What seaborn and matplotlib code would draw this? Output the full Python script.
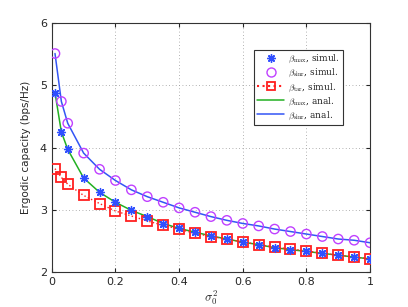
import numpy as np
import pandas as pd
import matplotlib
matplotlib.use("Agg")
import matplotlib.pyplot as plt
import seaborn as sns
from matplotlib.lines import Line2D

# ---- data ----
sigma2 = [0.01, 0.03, 0.05, 0.1, 0.15, 0.2, 0.25, 0.3, 0.35, 0.4, 0.45, 0.5,
          0.55, 0.6, 0.65, 0.7, 0.75, 0.8, 0.85, 0.9, 0.95, 1.0]
max_simul = [4.88, 4.25, 3.97, 3.51, 3.28, 3.12, 2.99, 2.89, 2.77, 2.70, 2.64, 2.58,
             2.53, 2.48, 2.44, 2.39, 2.36, 2.34, 2.30, 2.27, 2.24, 2.21]
sinr_simul = [5.51, 4.74, 4.39, 3.91, 3.65, 3.47, 3.32, 3.21, 3.12, 3.03, 2.96, 2.89,
              2.83, 2.78, 2.74, 2.69, 2.65, 2.61, 2.57, 2.53, 2.51, 2.47]
tar_simul = [3.66, 3.52, 3.41, 3.23, 3.10, 2.98, 2.90, 2.82, 2.75, 2.69, 2.62, 2.57,
             2.53, 2.48, 2.44, 2.40, 2.37, 2.34, 2.30, 2.27, 2.24, 2.21]
max_anal = [4.88, 4.25, 3.97, 3.51, 3.28, 3.12, 2.99, 2.89, 2.78, 2.70, 2.64, 2.58,
            2.53, 2.48, 2.44, 2.39, 2.36, 2.33, 2.30, 2.27, 2.24, 2.21]
sinr_anal = [5.51, 4.74, 4.39, 3.91, 3.65, 3.47, 3.32, 3.21, 3.12, 3.03, 2.96, 2.89,
             2.83, 2.78, 2.74, 2.69, 2.65, 2.61, 2.57, 2.53, 2.51, 2.47]
xticks = [0, 0.2, 0.4, 0.6, 0.8, 1]
yticks = [2, 3, 4, 5, 6]
labels = [r"$\beta_{\rm max}$, simul.", r"$\beta_{\rm sinr}$, simul.", r"$\beta_{\rm tar}$, simul.",
          r"$\beta_{\rm max}$, anal.", r"$\beta_{\rm sinr}$, anal."]

sns.set_style("ticks")
plt.rcParams["font.family"] = ["DejaVu Sans"]
plt.rcParams["mathtext.fontset"] = "cm"

c_star = "#2f4fff"
c_circ = "#c040ff"
c_sq = "#ff2020"
c_green = "#22b022"
c_blue = "#3355f5"

fig = plt.figure(figsize=(4.08, 3.07), dpi=100)
ax = fig.add_axes([0.127, 0.114, 0.78, 0.811])

anal = pd.DataFrame({
    "x": sigma2 + sigma2,
    "y": max_anal + sinr_anal,
    "series": ["max"] * len(sigma2) + ["sinr"] * len(sigma2),
})
sns.lineplot(data=anal, x="x", y="y", hue="series", palette=[c_green, c_blue],
             ax=ax, lw=1.1, legend=False, estimator=None, sort=False, zorder=3)

simul = pd.DataFrame({"x": sigma2, "max_s": max_simul, "sinr_s": sinr_simul, "tar_s": tar_simul})
sns.lineplot(data=simul, x="x", y="tar_s", ax=ax, color=c_sq, lw=1.0, linestyle=":",
             marker="s", markersize=6.5, markerfacecolor="none", markeredgecolor=c_sq,
             markeredgewidth=1.3, zorder=4)
sns.scatterplot(data=simul, x="x", y="sinr_s", ax=ax, marker="o", s=45,
                facecolor="none", edgecolor=c_circ, linewidth=1.0, zorder=5)
sns.scatterplot(data=simul, x="x", y="max_s", ax=ax, marker=(8, 2, 0), s=32,
                color=c_star, edgecolor=c_star, linewidth=1.0, zorder=6)

ax.set_xlim(0, 1)
ax.set_ylim(2, 6)
ax.set_xticks(xticks)
ax.set_xticklabels(["0", "0.2", "0.4", "0.6", "0.8", "1"])
ax.set_yticks(yticks)
ax.tick_params(direction="in", length=3, labelsize=8, top=True, right=True, width=0.8)
ax.grid(True, linestyle=(0, (1, 3)), color="#999999", linewidth=0.6)
for s in ax.spines.values():
    s.set_visible(True)
    s.set_linewidth(0.8)
    s.set_color("#333333")
ax.set_xlabel(r"$\sigma_0^2$", fontsize=9, labelpad=1)
ax.set_ylabel("Ergodic capacity (bps/Hz)", fontsize=7.5, labelpad=6)

handles = [
    Line2D([], [], linestyle="none", marker=(8, 2, 0), markersize=6, color=c_star, markeredgewidth=1.0),
    Line2D([], [], linestyle="none", marker="o", markersize=6.5, markerfacecolor="none",
           markeredgecolor=c_circ),
    Line2D([], [], linestyle=":", color=c_sq, marker="s", markersize=6, markerfacecolor="none",
           markeredgecolor=c_sq, markeredgewidth=1.3),
    Line2D([], [], color=c_green, lw=1.1),
    Line2D([], [], color=c_blue, lw=1.1),
]
leg = ax.legend(handles, labels, loc="upper left", bbox_to_anchor=(254 / 408, 1 - 50 / 307),
                bbox_transform=fig.transFigure, frameon=True, fancybox=False,
                edgecolor="#333333", framealpha=1, handlelength=3.0, borderpad=0.35,
                labelspacing=0.2, handletextpad=0.4, borderaxespad=0,
                prop={"family": "DejaVu Serif", "size": 6.5})
leg.get_frame().set_linewidth(0.8)

fig.savefig("out.png", dpi=100)
